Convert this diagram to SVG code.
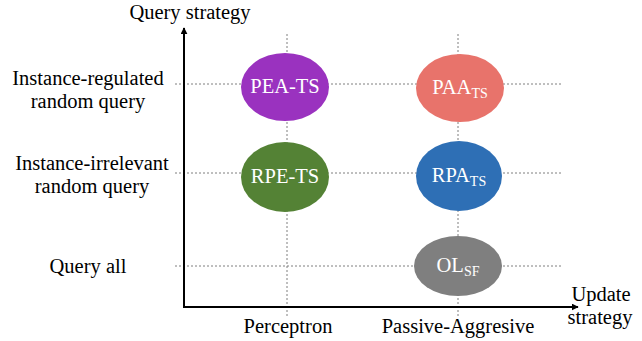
<svg xmlns="http://www.w3.org/2000/svg" width="642" height="341" viewBox="0 0 642 341">
  <defs>
    <marker id="arrow" viewBox="0 0 10 10" refX="9" refY="5" markerWidth="7" markerHeight="7" markerUnits="userSpaceOnUse" orient="auto">
      <path d="M0,0 L10,5 L0,10 z" fill="#000"/>
    </marker>
    <style>
      .grid-line { stroke: #7f7f7f; stroke-width: 1; stroke-dasharray: 2 2; fill: none; }
      .axis-line { stroke: #000; stroke-width: 2; fill: none; }
      .axis-text { font-family: "Liberation Serif", serif; font-size: 20.5px; fill: #000; text-anchor: middle; }
      .node-text { font-family: "Liberation Serif", serif; font-size: 20.5px; fill: #fff; text-anchor: middle; }
      .sub { font-size: 14px; }
    </style>
  </defs>
  <rect width="642" height="341" fill="#fff"/>

  <!-- dotted reference grid -->
  <g id="grid">
    <line class="grid-line" x1="175" y1="84" x2="563" y2="84"/>
    <line class="grid-line" x1="175" y1="173" x2="563" y2="173"/>
    <line class="grid-line" x1="175" y1="266" x2="563" y2="266"/>
    <line class="grid-line" x1="287" y1="34" x2="287" y2="318"/>
    <line class="grid-line" x1="458" y1="34" x2="458" y2="318"/>
  </g>

  <!-- axes -->
  <g id="connectors">
    <line class="axis-line" x1="184" y1="308" x2="184" y2="28" marker-end="url(#arrow)"/>
    <line class="axis-line" x1="183" y1="307" x2="578" y2="307" marker-end="url(#arrow)"/>
  </g>

  <!-- axis titles and tick labels -->
  <g id="labels">
    <text class="axis-text" x="190" y="19">Query strategy</text>
    <text class="axis-text" x="601" y="301">Update</text>
    <text class="axis-text" x="600" y="324">strategy</text>
    <text class="axis-text" x="88" y="85">Instance-regulated</text>
    <text class="axis-text" x="88" y="108">random query</text>
    <text class="axis-text" x="92" y="170">Instance-irrelevant</text>
    <text class="axis-text" x="92" y="193">random query</text>
    <text class="axis-text" x="88" y="273">Query all</text>
    <text class="axis-text" x="288" y="333">Perceptron</text>
    <text class="axis-text" x="458" y="333">Passive-Aggresive</text>
  </g>

  <g id="pea-ts">
    <ellipse cx="285" cy="87" rx="44" ry="34" fill="#9a32bf"/>
    <text class="node-text" x="285" y="93">PEA-TS</text>
  </g>
  <g id="paa-ts">
    <ellipse cx="460" cy="88" rx="44" ry="34" fill="#e8736b"/>
    <text class="node-text" x="460" y="94">PAA<tspan class="sub" dy="4">TS</tspan></text>
  </g>
  <g id="rpe-ts">
    <ellipse cx="285" cy="177" rx="44" ry="35" fill="#548235"/>
    <text class="node-text" x="285" y="183">RPE-TS</text>
  </g>
  <g id="rpa-ts">
    <ellipse cx="459" cy="176" rx="43" ry="35" fill="#2e6fb5"/>
    <text class="node-text" x="459" y="182">RPA<tspan class="sub" dy="4">TS</tspan></text>
  </g>
  <g id="ol-sf">
    <ellipse cx="458" cy="266" rx="44" ry="30" fill="#7f7f7f"/>
    <text class="node-text" x="458" y="272">OL<tspan class="sub" dy="4">SF</tspan></text>
  </g>
</svg>
